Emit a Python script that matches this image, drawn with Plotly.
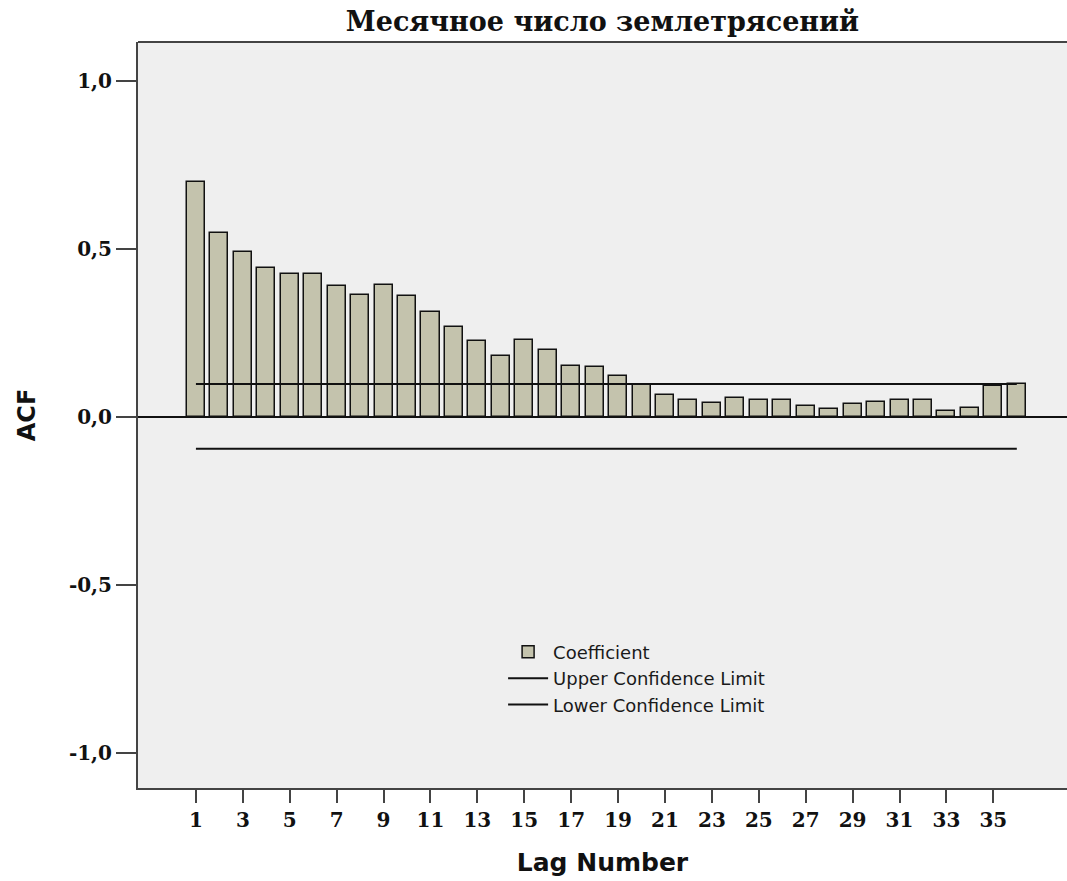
import plotly.graph_objects as go

# Autocorrelation of the monthly earthquake count
lags = list(range(1, 37))
acf = [0.698, 0.546, 0.490, 0.443, 0.426, 0.424, 0.391, 0.362, 0.393, 0.359,
       0.313, 0.268, 0.226, 0.182, 0.229, 0.198, 0.150, 0.149, 0.122, 0.094,
       0.066, 0.050, 0.041, 0.055, 0.051, 0.049, 0.032, 0.022, 0.037, 0.045,
       0.051, 0.050, 0.017, 0.027, 0.091, 0.098]
upper_limit = [0.098] * len(lags)
lower_limit = [-0.095] * len(lags)

x_ticks = list(range(1, 36, 2))
y_ticks = [-1.0, -0.5, 0.0, 0.5, 1.0]
y_tick_labels = ["-1,0", "-0,5", "0,0", "0,5", "1,0"]

title_text = "Месячное число землетрясений"

fig = go.Figure()
fig.add_trace(go.Bar(
    x=lags, y=acf, name="Coefficient", width=0.77,
    marker=dict(color="#c4c3ad", line=dict(color="#111111", width=1.5)),
))
fig.add_trace(go.Scatter(
    x=lags, y=upper_limit, mode="lines", name="Upper Confidence Limit",
    line=dict(color="#111111", width=2),
))
fig.add_trace(go.Scatter(
    x=lags, y=lower_limit, mode="lines", name="Lower Confidence Limit",
    line=dict(color="#111111", width=2),
))

fig.update_layout(
    width=1067, height=881,
    margin=dict(l=138, r=0, t=42, b=93),
    paper_bgcolor="white",
    plot_bgcolor="#efefef",
    bargap=0,
    title=dict(
        text=title_text, x=0.5, xref="paper", xanchor="center",
        y=1 - 22 / 881, yanchor="middle",
        font=dict(family="DejaVu Serif", size=27, weight="bold", color="#111111"),
    ),
    legend=dict(
        x=0.393, y=0.207, xanchor="left", yanchor="top",
        bgcolor="rgba(0,0,0,0)", borderwidth=0,
        font=dict(family="DejaVu Sans", size=18, color="#1a1a1a"),
        tracegroupgap=0, itemwidth=40,
    ),
    showlegend=True,
)

fig.update_xaxes(
    range=[-1.47, 38.14],
    tickmode="array", tickvals=x_ticks,
    ticks="outside", ticklen=13, tickwidth=2, tickcolor="#444444",
    tickfont=dict(family="DejaVu Serif", size=20, weight="bold", color="#111111"),
    showgrid=False, zeroline=False,
    showline=True, linecolor="#444444", linewidth=2,
    title=dict(text="Lag Number", standoff=22,
               font=dict(family="DejaVu Sans", size=25, weight="bold", color="#111111")),
)
fig.update_yaxes(
    range=[-1.105, 1.116],
    tickmode="array", tickvals=y_ticks, ticktext=y_tick_labels,
    ticks="outside", ticklen=20, tickwidth=2, tickcolor="#444444",
    tickfont=dict(family="DejaVu Serif", size=20, weight="bold", color="#111111"),
    showgrid=False,
    zeroline=True, zerolinecolor="#111111", zerolinewidth=1.5,
    showline=True, linecolor="#444444", linewidth=2,
    title=dict(text="ACF", standoff=26,
               font=dict(family="DejaVu Sans", size=24, weight="bold", color="#111111")),
)

# top border of the plotting frame
fig.add_shape(type="line", xref="paper", yref="paper", x0=0, x1=1, y0=1, y1=1,
              line=dict(color="#444444", width=2))

fig.write_html("out.html")
